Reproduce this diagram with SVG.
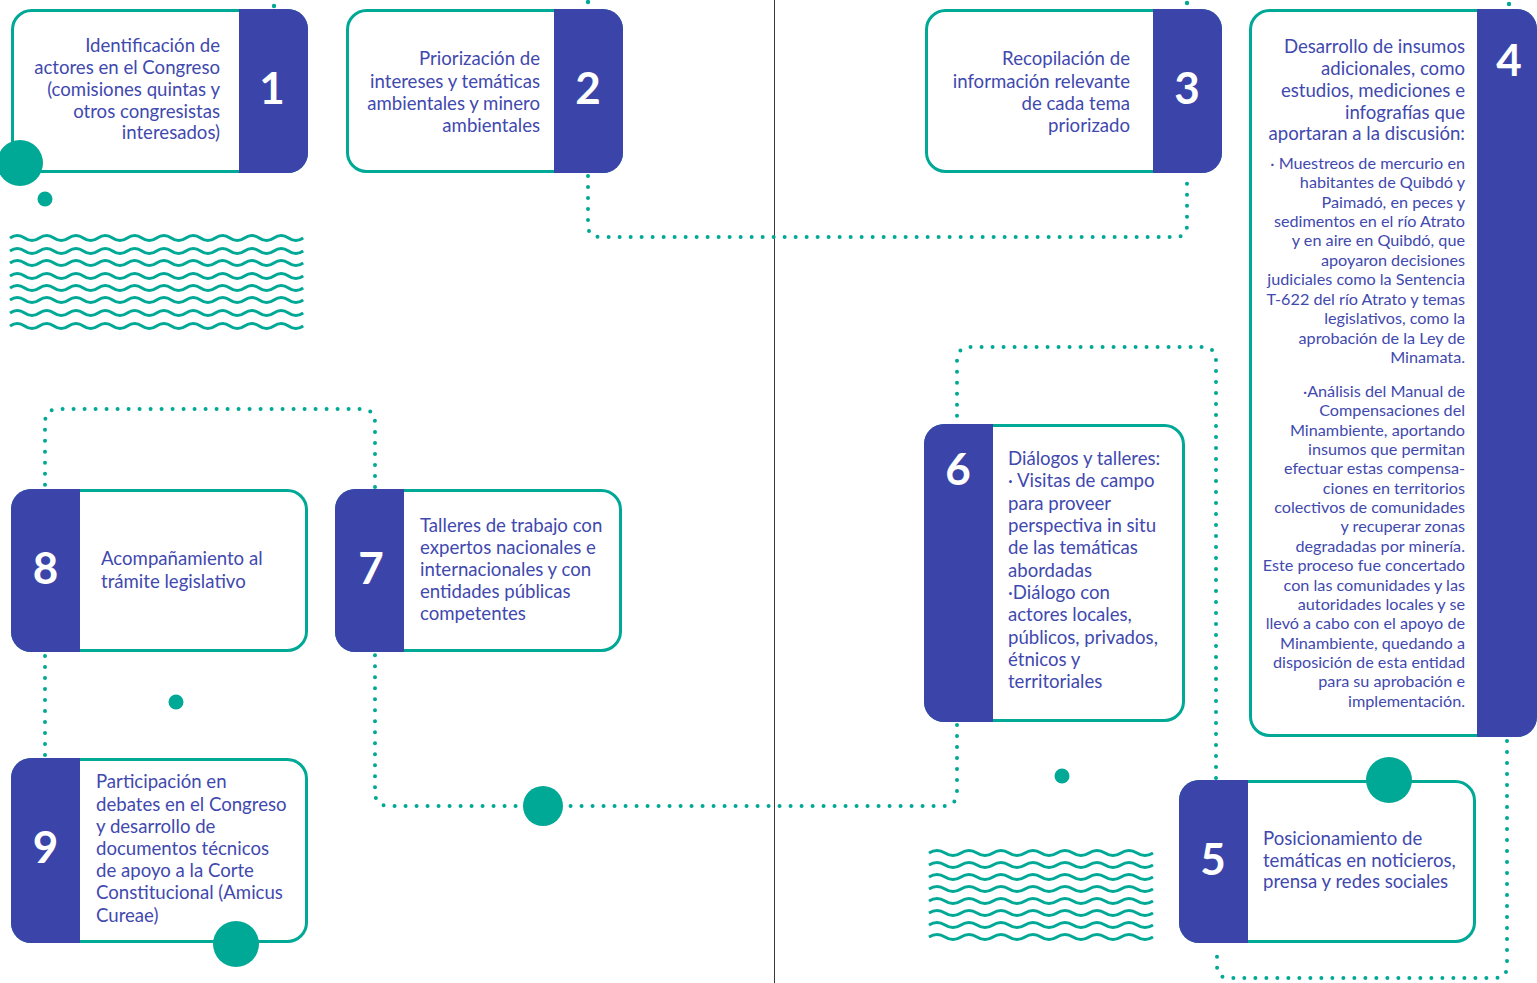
<svg xmlns="http://www.w3.org/2000/svg" width="1537" height="983" viewBox="0 0 1537 983">
<style>
.box{fill:#fff;stroke:#00A896;stroke-width:3}
.band{fill:#3B45A9}
.t{font-family:Lato,"Noto Sans",sans-serif;font-size:18.6px;fill:#3F49AE}
.s{font-family:Lato,"Noto Sans",sans-serif;font-size:16.2px;fill:#3F49AE}
.r{text-anchor:end}
.num{font-family:Lato,"Noto Sans",sans-serif;font-weight:700;font-size:44px;fill:#fff;text-anchor:middle}
.dot{fill:none;stroke:#00A896;stroke-width:4;stroke-linecap:round;stroke-dasharray:0 11}
.wave{fill:none;stroke:#00A896;stroke-width:3}
.c{fill:#00A896}
</style>
<defs>
<path id="w1" class="wave" d="M10,0 q7.33,-5 14.66,0 t14.66,0 t14.66,0 t14.66,0 t14.66,0 t14.66,0 t14.66,0 t14.66,0 t14.66,0 t14.66,0 t14.66,0 t14.66,0 t14.66,0 t14.66,0 t14.66,0 t14.66,0 t14.66,0 t14.66,0 t14.66,0 t14.66,0"/>
<path id="w2" class="wave" d="M929,0 q8,-5 16,0 t16,0 t16,0 t16,0 t16,0 t16,0 t16,0 t16,0 t16,0 t16,0 t16,0 t16,0 t16,0 t16,0"/>
</defs>
<rect width="1537" height="983" fill="#fff"/>
<line x1="774.5" y1="0" x2="774.5" y2="983" stroke="#3a3a3a" stroke-width="1"/>

<g id="connectors">
<path class="dot" d="M588,176 V225 Q588,237 600,237 H1175 Q1187,237 1187,225 V176"/>
<path class="dot" d="M1507,741 V966 Q1507,978 1495,978 H1229 Q1217,978 1217,966 V946"/>
<path class="dot" d="M1216,778 V361 Q1216,347 1202,347 H971 Q957,347 957,361 V422"/>
<path class="dot" d="M957,725 V792 Q957,806 943,806 H389 Q375,806 375,792 V655"/>
<path class="dot" d="M375,487 V423 Q375,409 361,409 H59 Q45,409 45,423 V487"/>
<path class="dot" d="M45,656 V756"/>
<circle class="c" cx="274" cy="6" r="2.2"/>
<circle class="c" cx="588" cy="2" r="2.2"/>
<circle class="c" cx="1187" cy="3" r="2.2"/>
<circle class="c" cx="1509" cy="4" r="2.2"/>
</g>

<g id="waves1">
<use href="#w1" y="238"/><use href="#w1" y="251"/><use href="#w1" y="263"/><use href="#w1" y="276"/>
<use href="#w1" y="288"/><use href="#w1" y="300"/><use href="#w1" y="313"/><use href="#w1" y="326"/>
</g>
<g id="waves2">
<use href="#w2" y="853"/><use href="#w2" y="865"/><use href="#w2" y="877"/><use href="#w2" y="889"/>
<use href="#w2" y="901"/><use href="#w2" y="913"/><use href="#w2" y="925"/><use href="#w2" y="937"/>
</g>

<g id="node1">
<rect class="box" x="12.5" y="10.5" width="294" height="161" rx="19"/>
<path class="band" d="M239,9 H288 A20,20 0 0 1 308,29 V153 A20,20 0 0 1 288,173 H239 Z"/>
<text class="num" x="272" y="104">1</text>
<text class="t r" x="220" y="52">Identificación de</text>
<text class="t r" x="220" y="74">actores en el Congreso</text>
<text class="t r" x="220" y="96">(comisiones quintas y</text>
<text class="t r" x="220" y="117.5">otros congresistas</text>
<text class="t r" x="220" y="139">interesados)</text>
</g>

<g id="node2">
<rect class="box" x="347.5" y="10.5" width="274" height="161" rx="19"/>
<path class="band" d="M554,9 H603 A20,20 0 0 1 623,29 V153 A20,20 0 0 1 603,173 H554 Z"/>
<text class="num" x="588" y="104">2</text>
<text class="t r" x="540" y="65">Priorización de</text>
<text class="t r" x="540" y="87.5">intereses y temáticas</text>
<text class="t r" x="540" y="109.5">ambientales y minero</text>
<text class="t r" x="540" y="131.5">ambientales</text>
</g>

<g id="node3">
<rect class="box" x="926.5" y="10.5" width="294" height="161" rx="19"/>
<path class="band" d="M1153,9 H1202 A20,20 0 0 1 1222,29 V153 A20,20 0 0 1 1202,173 H1153 Z"/>
<text class="num" x="1187" y="104">3</text>
<text class="t r" x="1130" y="65">Recopilación de</text>
<text class="t r" x="1130" y="87.5">información relevante</text>
<text class="t r" x="1130" y="109.5">de cada tema</text>
<text class="t r" x="1130" y="131.5">priorizado</text>
</g>

<g id="node4">
<rect class="box" x="1250.5" y="10.5" width="285" height="725" rx="19"/>
<path class="band" d="M1477,9 H1517 A20,20 0 0 1 1537,29 V717 A20,20 0 0 1 1517,737 H1477 Z"/>
<text class="num" x="1509" y="76">4</text>
<text class="t r" x="1465" y="53">Desarrollo de insumos</text>
<text class="t r" x="1465" y="75">adicionales, como</text>
<text class="t r" x="1465" y="97">estudios, mediciones e</text>
<text class="t r" x="1465" y="118.5">infografías que</text>
<text class="t r" x="1465" y="140">aportaran a la discusión:</text>
<text class="s r" x="1465" y="168.5">· Muestreos de mercurio en</text>
<text class="s r" x="1465" y="188">habitantes de Quibdó y</text>
<text class="s r" x="1465" y="207.5">Paimadó, en peces y</text>
<text class="s r" x="1465" y="226.9">sedimentos en el río Atrato</text>
<text class="s r" x="1465" y="246.3">y en aire en Quibdó, que</text>
<text class="s r" x="1465" y="265.8">apoyaron decisiones</text>
<text class="s r" x="1465" y="285.2">judiciales como la Sentencia</text>
<text class="s r" x="1465" y="304.7">T-622 del río Atrato y temas</text>
<text class="s r" x="1465" y="324.1">legislativos, como la</text>
<text class="s r" x="1465" y="343.5">aprobación de la Ley de</text>
<text class="s r" x="1465" y="363">Minamata.</text>
<text class="s r" x="1465" y="396.7">·Análisis del Manual de</text>
<text class="s r" x="1465" y="416.1">Compensaciones del</text>
<text class="s r" x="1465" y="435.5">Minambiente, aportando</text>
<text class="s r" x="1465" y="454.8">insumos que permitan</text>
<text class="s r" x="1465" y="474.2">efectuar estas compensa-</text>
<text class="s r" x="1465" y="493.6">ciones en territorios</text>
<text class="s r" x="1465" y="512.9">colectivos de comunidades</text>
<text class="s r" x="1465" y="532.3">y recuperar zonas</text>
<text class="s r" x="1465" y="551.7">degradadas por minería.</text>
<text class="s r" x="1465" y="571.1">Este proceso fue concertado</text>
<text class="s r" x="1465" y="590.5">con las comunidades y las</text>
<text class="s r" x="1465" y="609.8">autoridades locales y se</text>
<text class="s r" x="1465" y="629.2">llevó a cabo con el apoyo de</text>
<text class="s r" x="1465" y="648.6">Minambiente, quedando a</text>
<text class="s r" x="1465" y="667.9">disposición de esta entidad</text>
<text class="s r" x="1465" y="687.3">para su aprobación e</text>
<text class="s r" x="1465" y="706.7">implementación.</text>
</g>

<g id="node6">
<rect class="box" x="925.5" y="425.5" width="258" height="295" rx="19"/>
<path class="band" d="M993,424 H944 A20,20 0 0 0 924,444 V702 A20,20 0 0 0 944,722 H993 Z"/>
<text class="num" x="958" y="485">6</text>
<text class="t" x="1008" y="465">Diálogos y talleres:</text>
<text class="t" x="1008" y="487.3">· Visitas de campo</text>
<text class="t" x="1008" y="509.7">para proveer</text>
<text class="t" x="1008" y="532">perspectiva in situ</text>
<text class="t" x="1008" y="554.3">de las temáticas</text>
<text class="t" x="1008" y="576.7">abordadas</text>
<text class="t" x="1008" y="599">·Diálogo con</text>
<text class="t" x="1008" y="621.3">actores locales,</text>
<text class="t" x="1008" y="643.6">públicos, privados,</text>
<text class="t" x="1008" y="666">étnicos y</text>
<text class="t" x="1008" y="688.3">territoriales</text>
</g>

<g id="node8">
<rect class="box" x="12.5" y="490.5" width="294" height="160" rx="19"/>
<path class="band" d="M80,489 H31 A20,20 0 0 0 11,509 V632 A20,20 0 0 0 31,652 H80 Z"/>
<text class="num" x="45.5" y="584">8</text>
<text class="t" x="101" y="565">Acompañamiento al</text>
<text class="t" x="101" y="587.5">trámite legislativo</text>
</g>

<g id="node7">
<rect class="box" x="336.5" y="490.5" width="284" height="160" rx="19"/>
<path class="band" d="M404,489 H355 A20,20 0 0 0 335,509 V632 A20,20 0 0 0 355,652 H404 Z"/>
<text class="num" x="371" y="584">7</text>
<text class="t" x="420" y="531.5">Talleres de trabajo con</text>
<text class="t" x="420" y="553.6">expertos nacionales e</text>
<text class="t" x="420" y="575.7">internacionales y con</text>
<text class="t" x="420" y="597.8">entidades públicas</text>
<text class="t" x="420" y="620">competentes</text>
</g>

<g id="node9">
<rect class="box" x="12.5" y="759.5" width="294" height="182" rx="19"/>
<path class="band" d="M80,758 H31 A20,20 0 0 0 11,778 V923 A20,20 0 0 0 31,943 H80 Z"/>
<text class="num" x="45.5" y="863">9</text>
<text class="t" x="96" y="788.3">Participación en</text>
<text class="t" x="96" y="810.5">debates en el Congreso</text>
<text class="t" x="96" y="832.7">y desarrollo de</text>
<text class="t" x="96" y="854.9">documentos técnicos</text>
<text class="t" x="96" y="877.1">de apoyo a la Corte</text>
<text class="t" x="96" y="899.3">Constitucional (Amicus</text>
<text class="t" x="96" y="921.5">Cureae)</text>
</g>

<g id="node5">
<rect class="box" x="1180.5" y="781.5" width="294" height="160" rx="19"/>
<path class="band" d="M1248,780 H1199 A20,20 0 0 0 1179,800 V923 A20,20 0 0 0 1199,943 H1248 Z"/>
<text class="num" x="1213" y="875">5</text>
<text class="t" x="1263" y="845">Posicionamiento de</text>
<text class="t" x="1263" y="866.7">temáticas en noticieros,</text>
<text class="t" x="1263" y="888.4">prensa y redes sociales</text>
</g>

<g id="decor">
<circle class="c" cx="20" cy="163" r="23"/>
<circle class="c" cx="45" cy="199" r="7.5"/>
<circle class="c" cx="176" cy="702" r="7.5"/>
<circle class="c" cx="543" cy="806" r="20"/>
<circle class="c" cx="1062" cy="776" r="7.5"/>
<circle class="c" cx="236" cy="944" r="23"/>
<circle class="c" cx="1389" cy="780" r="23"/>
</g>
</svg>
